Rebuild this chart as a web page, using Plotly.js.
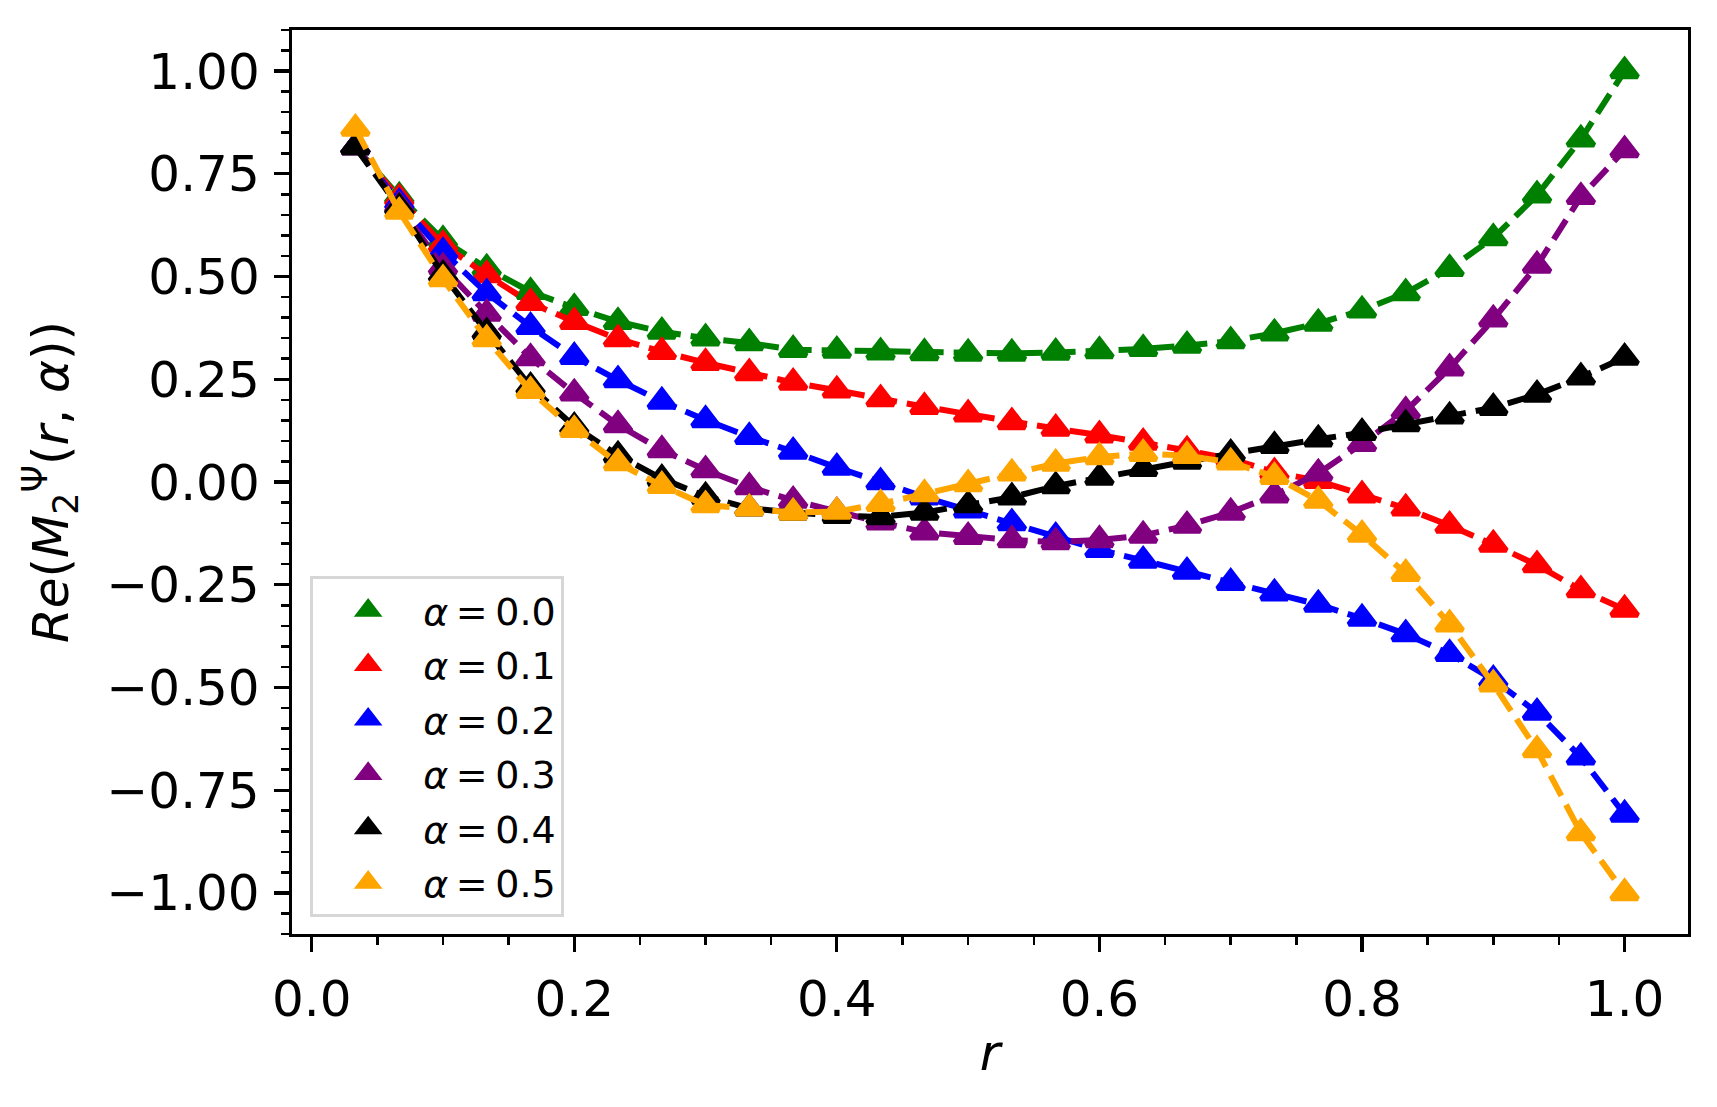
<!DOCTYPE html>
<html>
<head>
<meta charset="utf-8">
<script src="https://cdn.plot.ly/plotly-3.0.1.min.js"></script>
<style>
  html, body { margin: 0; padding: 0; background: #fff; }
  #chart { width: 1717px; height: 1107px; }
</style>
</head>
<body>
<div id="chart"></div>
<script>
// r = k/30, k = 1..30
const r = [
  0.0333, 0.0667, 0.1000, 0.1333, 0.1667, 0.2000, 0.2333, 0.2667, 0.3000, 0.3333,
  0.3667, 0.4000, 0.4333, 0.4667, 0.5000, 0.5333, 0.5667, 0.6000, 0.6333, 0.6667,
  0.7000, 0.7333, 0.7667, 0.8000, 0.8333, 0.8667, 0.9000, 0.9333, 0.9667, 1.0000
];

const alpha00 = [
  0.815, 0.695, 0.589, 0.520, 0.463, 0.424, 0.390, 0.366, 0.350, 0.338,
  0.322, 0.320, 0.316, 0.314, 0.313, 0.313, 0.315, 0.319, 0.324, 0.332,
  0.343, 0.362, 0.386, 0.418, 0.460, 0.519, 0.594, 0.698, 0.834, 1.000
];
const alpha01 = [
  0.815, 0.690, 0.578, 0.504, 0.436, 0.390, 0.348, 0.317, 0.290, 0.265,
  0.242, 0.223, 0.202, 0.183, 0.165, 0.146, 0.130, 0.114, 0.096, 0.077,
  0.056, 0.024, 0.003, -0.032, -0.064, -0.106, -0.152, -0.202, -0.263, -0.310
];
const alpha02 = [
  0.815, 0.680, 0.560, 0.460, 0.378, 0.305, 0.248, 0.196, 0.151, 0.110,
  0.074, 0.035, 0.000, -0.037, -0.069, -0.100, -0.133, -0.165, -0.191, -0.218,
  -0.245, -0.271, -0.298, -0.332, -0.370, -0.418, -0.481, -0.561, -0.670, -0.809
];
const alpha03 = [
  0.815, 0.672, 0.523, 0.410, 0.302, 0.216, 0.139, 0.078, 0.029, -0.012,
  -0.045, -0.072, -0.098, -0.122, -0.133, -0.141, -0.146, -0.141, -0.130, -0.106,
  -0.074, -0.032, 0.021, 0.093, 0.173, 0.277, 0.396, 0.527, 0.694, 0.808
];
const alpha04 = [
  0.815, 0.668, 0.505, 0.365, 0.232, 0.135, 0.065, 0.008, -0.035, -0.064,
  -0.074, -0.082, -0.085, -0.074, -0.056, -0.037, -0.010, 0.011, 0.032, 0.050,
  0.069, 0.088, 0.104, 0.120, 0.141, 0.160, 0.181, 0.213, 0.255, 0.303
];
const alpha05 = [
  0.860, 0.658, 0.494, 0.348, 0.222, 0.127, 0.046, -0.009, -0.056, -0.064,
  -0.074, -0.072, -0.053, -0.029, -0.005, 0.021, 0.045, 0.061, 0.069, 0.064,
  0.048, 0.013, -0.045, -0.128, -0.223, -0.346, -0.492, -0.652, -0.854, -1.000
];

const seriesLabels = [
  '<i>α</i>\u2009=\u20090.0', '<i>α</i>\u2009=\u20090.1', '<i>α</i>\u2009=\u20090.2',
  '<i>α</i>\u2009=\u20090.3', '<i>α</i>\u2009=\u20090.4', '<i>α</i>\u2009=\u20090.5'
];
const seriesValues = [alpha00, alpha01, alpha02, alpha03, alpha04, alpha05];
const seriesColors = ['#008000', '#ff0000', '#0000ff', '#800080', '#000000', '#ffa500'];

const xTickVals = [0.0, 0.2, 0.4, 0.6, 0.8, 1.0];
const xTickText = ['0.0', '0.2', '0.4', '0.6', '0.8', '1.0'];
const yTickVals = [-1.0, -0.75, -0.5, -0.25, 0.0, 0.25, 0.5, 0.75, 1.0];
const yTickText = ['−1.00', '−0.75', '−0.50', '−0.25', '0.00', '0.25', '0.50', '0.75', '1.00'];

const font = 'DejaVu Sans, sans-serif';

const traces = [];
seriesValues.forEach((vals, i) => {
  // dashed line, no legend entry (matplotlib legend shows only the marker)
  traces.push({
    x: r,
    y: vals,
    type: 'scatter',
    mode: 'lines',
    legendgroup: 'g' + i,
    line: {color: seriesColors[i], width: 6, dash: '23px,10px'},
    showlegend: false,
    hoverinfo: 'skip'
  });
  traces.push({
    x: r,
    y: vals,
    type: 'scatter',
    mode: 'markers',
    legendgroup: 'g' + i,
    name: seriesLabels[i],
    marker: {
      symbol: 'triangle-up',
      size: 23,
      color: seriesColors[i],
      line: {width: 5, color: seriesColors[i]}
    }
  });
});

const axisCommon = {
  showgrid: false,
  zeroline: false,
  showline: true,
  linecolor: '#000',
  linewidth: 3.3,
  mirror: true,
  ticks: 'outside',
  ticklen: 15,
  tickwidth: 3.3,
  tickcolor: '#000',
  tickfont: {family: font, size: 50, color: '#000'},
  minor: {dtick: 0.05, ticks: 'outside', ticklen: 8, tickwidth: 2.5, tickcolor: '#000'}
};

const layout = {
  width: 1717,
  height: 1107,
  margin: {l: 292, r: 29, t: 30, b: 173},
  paper_bgcolor: '#fff',
  plot_bgcolor: '#fff',
  font: {family: font, color: '#000'},
  xaxis: Object.assign({}, axisCommon, {
    range: [-0.015, 1.0483],
    tickmode: 'array',
    tickvals: xTickVals,
    ticktext: xTickText,
    ticklabelstandoff: 4,
    title: {text: '<i>r</i>', font: {family: font, size: 50}, standoff: 8}
  }),
  yaxis: Object.assign({}, axisCommon, {
    range: [-1.1, 1.1],
    tickmode: 'array',
    tickvals: yTickVals,
    ticktext: yTickText,
    ticklabelstandoff: 4,
    title: {
      text: '<i>Re</i>(<i>M</i><sub>2</sub><sup>Ψ</sup>(<i>r</i>, <i>α</i>))',
      font: {family: font, size: 50},
      standoff: 23
    }
  }),
  showlegend: true,
  legend: {
    x: 0.013,
    y: 0.396,
    xanchor: 'left',
    yanchor: 'top',
    bgcolor: 'rgba(255,255,255,0.8)',
    bordercolor: '#d6d6d6',
    borderwidth: 3,
    font: {family: font, size: 38, color: '#000'},
    itemwidth: 100,
    traceorder: 'grouped',
    tracegroupgap: 2
  }
};

Plotly.newPlot('chart', traces, layout, {staticPlot: true});
</script>
</body>
</html>
